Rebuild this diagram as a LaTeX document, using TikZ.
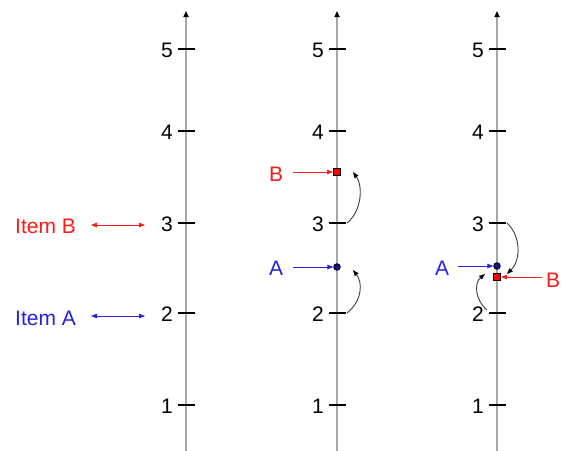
\documentclass[tikz,border=0pt]{standalone}
\usepackage{fontspec}
\setmainfont{Liberation Sans}
\usetikzlibrary{arrows.meta}
\definecolor{axisgray}{RGB}{168,168,168}
\definecolor{itemred}{RGB}{255,25,25}
\definecolor{itemblue}{RGB}{35,35,225}
\definecolor{dotblue}{RGB}{20,20,150}
\definecolor{curvegray}{RGB}{60,60,60}
\begin{document}
\begin{tikzpicture}[x=1pt,y=-1pt,
  txt/.style={inner sep=0pt,font=\fontsize{21pt}{25pt}\selectfont},
  axisline/.style={draw=axisgray,line width=2.2pt,-{Triangle[length=6pt,width=5pt,color=black]}},
  tickline/.style={draw=black,line width=1.2pt},
  ptr/.style={line width=0.8pt,-{Triangle[length=6pt,width=4.5pt]}},
  dbl/.style={line width=0.8pt,{Triangle[length=6pt,width=4.5pt]}-{Triangle[length=6pt,width=4.5pt]}},
  curvearrow/.style={draw=curvegray,line width=0.9pt,-{Triangle[length=6pt,width=4.5pt,color=black]}},
  sq/.style={draw=black,fill=red,line width=0.9pt,minimum size=7pt,inner sep=0pt},
  dot/.style={draw=black,fill=dotblue,circle,line width=0.9pt,minimum size=6.5pt,inner sep=0pt}
]
\useasboundingbox (0,0) rectangle (564,450);

% axes
\foreach \n/\ax in {L/186,M/337,R/497}{
  \coordinate (bot-\n) at (\ax,452);
  \coordinate (top-\n) at (\ax,11);
  \draw[axisline] (bot-\n) -- (top-\n);
  \foreach \v/\yy in {1/405,2/313,3/223,4/131,5/49}{
    \coordinate (tl-\n-\v) at (\ax-8.5,\yy);
    \coordinate (tr-\n-\v) at (\ax+8.5,\yy);
    \draw[tickline] (tl-\n-\v) -- (tr-\n-\v);
    \node[txt,anchor=east] (lab-\n-\v) at (\ax-13,\yy+1) {\v};
  }
}

% left: items
\node[txt,anchor=west,text=itemred] (itemB) at (15,226) {Item B};
\node[txt,anchor=west,text=itemblue] (itemA) at (15,318) {Item A};
\coordinate (dBl) at (91,225);
\coordinate (dBr) at (145,225);
\coordinate (dAl) at (91,316);
\coordinate (dAr) at (145,316);
\draw[dbl,itemred] (dBl) -- (dBr);
\draw[dbl,itemblue] (dAl) -- (dAr);

% middle
\node[sq] (mB) at (337,172) {};
\node[dot] (mA) at (337,267) {};
\node[txt,text=itemred] (mBlab) at (276,174) {B};
\node[txt,text=itemblue] (mAlab) at (276,268) {A};
\coordinate (mBs) at (293,172);
\coordinate (mAs) at (293,267);
\draw[ptr,itemred] (mBs) -- (mB.west);
\draw[ptr,itemblue] (mAs) -- (mA.west);
\coordinate (mBt) at (353,172);
\coordinate (mAt) at (353,270);
\coordinate (mBc) at (347,223);
\coordinate (mAc) at (347,313);
\draw[curvearrow] (mBc) .. controls (362,211) and (363,186) .. (mBt);
\draw[curvearrow] (mAc) .. controls (362,301) and (363,283) .. (mAt);

% right
\node[dot] (rA) at (497,266) {};
\node[sq] (rB) at (497,277) {};
\node[txt,text=itemblue] (rAlab) at (442,268) {A};
\node[txt,text=itemred] (rBlab) at (553,280) {B};
\coordinate (rAs) at (458,266);
\coordinate (rBs) at (542,277);
\draw[ptr,itemblue] (rAs) -- (rA.west);
\draw[ptr,itemred] (rBs) -- (rB.east);
\coordinate (rBt) at (507,274);
\coordinate (rBc) at (507,223);
\coordinate (rAt) at (485,274);
\coordinate (rAc) at (487,310);
\draw[curvearrow] (rBc) .. controls (521,236) and (521,260) .. (rBt);
\draw[curvearrow] (rAc) .. controls (475,300) and (474,283) .. (rAt);
\end{tikzpicture}
\end{document}
